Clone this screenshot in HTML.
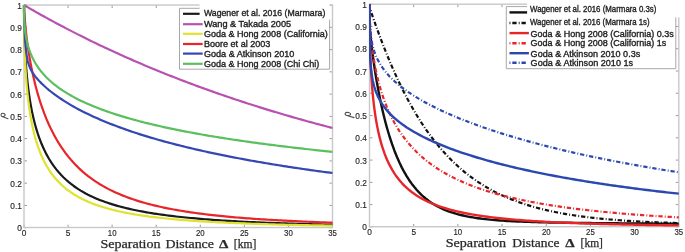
<!DOCTYPE html>
<html><head><meta charset="utf-8"><style>
html,body{margin:0;padding:0;background:#fff;}
body{width:685px;height:252px;overflow:hidden;}
svg{display:block;will-change:transform;}
.tk{font-family:"Liberation Sans",sans-serif;font-size:8.3px;fill:#262626;stroke:#262626;stroke-width:0.15px;}
.lg{font-family:"Liberation Sans",sans-serif;font-size:9px;fill:#222;stroke:#222;stroke-width:0.35px;}
.xl{font-family:"Liberation Serif",serif;font-size:12px;fill:#2a2a2a;stroke:#2a2a2a;stroke-width:0.25px;}
.xd{font-weight:bold;}
.yl{font-family:"Liberation Serif",serif;font-size:10.5px;font-style:italic;fill:#333;}
</style></head><body>
<svg width="685" height="252" viewBox="0 0 685 252">
<defs>
<clipPath id="cl"><rect x="22.0" y="3.05" width="312.5" height="226.64999999999998"/></clipPath>
<clipPath id="cr"><rect x="369.0" y="2.2" width="311.79999999999995" height="226.70000000000002"/></clipPath>
</defs>
<rect width="685" height="252" fill="#fff"/>
<line x1="24.00" y1="227.7" x2="24.00" y2="224.7" stroke="#9a9a9a" stroke-width="1"/>
<line x1="24.00" y1="5.05" x2="24.00" y2="8.05" stroke="#9a9a9a" stroke-width="1"/>
<line x1="68.07" y1="227.7" x2="68.07" y2="224.7" stroke="#9a9a9a" stroke-width="1"/>
<line x1="68.07" y1="5.05" x2="68.07" y2="8.05" stroke="#9a9a9a" stroke-width="1"/>
<line x1="112.14" y1="227.7" x2="112.14" y2="224.7" stroke="#9a9a9a" stroke-width="1"/>
<line x1="112.14" y1="5.05" x2="112.14" y2="8.05" stroke="#9a9a9a" stroke-width="1"/>
<line x1="156.21" y1="227.7" x2="156.21" y2="224.7" stroke="#9a9a9a" stroke-width="1"/>
<line x1="156.21" y1="5.05" x2="156.21" y2="8.05" stroke="#9a9a9a" stroke-width="1"/>
<line x1="200.29" y1="227.7" x2="200.29" y2="224.7" stroke="#9a9a9a" stroke-width="1"/>
<line x1="200.29" y1="5.05" x2="200.29" y2="8.05" stroke="#9a9a9a" stroke-width="1"/>
<line x1="244.36" y1="227.7" x2="244.36" y2="224.7" stroke="#9a9a9a" stroke-width="1"/>
<line x1="244.36" y1="5.05" x2="244.36" y2="8.05" stroke="#9a9a9a" stroke-width="1"/>
<line x1="288.43" y1="227.7" x2="288.43" y2="224.7" stroke="#9a9a9a" stroke-width="1"/>
<line x1="288.43" y1="5.05" x2="288.43" y2="8.05" stroke="#9a9a9a" stroke-width="1"/>
<line x1="332.50" y1="227.7" x2="332.50" y2="224.7" stroke="#9a9a9a" stroke-width="1"/>
<line x1="332.50" y1="5.05" x2="332.50" y2="8.05" stroke="#9a9a9a" stroke-width="1"/>
<line x1="24.0" y1="227.70" x2="27.0" y2="227.70" stroke="#9a9a9a" stroke-width="1"/>
<line x1="332.5" y1="227.70" x2="329.5" y2="227.70" stroke="#9a9a9a" stroke-width="1"/>
<line x1="24.0" y1="205.44" x2="27.0" y2="205.44" stroke="#9a9a9a" stroke-width="1"/>
<line x1="332.5" y1="205.44" x2="329.5" y2="205.44" stroke="#9a9a9a" stroke-width="1"/>
<line x1="24.0" y1="183.17" x2="27.0" y2="183.17" stroke="#9a9a9a" stroke-width="1"/>
<line x1="332.5" y1="183.17" x2="329.5" y2="183.17" stroke="#9a9a9a" stroke-width="1"/>
<line x1="24.0" y1="160.91" x2="27.0" y2="160.91" stroke="#9a9a9a" stroke-width="1"/>
<line x1="332.5" y1="160.91" x2="329.5" y2="160.91" stroke="#9a9a9a" stroke-width="1"/>
<line x1="24.0" y1="138.64" x2="27.0" y2="138.64" stroke="#9a9a9a" stroke-width="1"/>
<line x1="332.5" y1="138.64" x2="329.5" y2="138.64" stroke="#9a9a9a" stroke-width="1"/>
<line x1="24.0" y1="116.38" x2="27.0" y2="116.38" stroke="#9a9a9a" stroke-width="1"/>
<line x1="332.5" y1="116.38" x2="329.5" y2="116.38" stroke="#9a9a9a" stroke-width="1"/>
<line x1="24.0" y1="94.11" x2="27.0" y2="94.11" stroke="#9a9a9a" stroke-width="1"/>
<line x1="332.5" y1="94.11" x2="329.5" y2="94.11" stroke="#9a9a9a" stroke-width="1"/>
<line x1="24.0" y1="71.85" x2="27.0" y2="71.85" stroke="#9a9a9a" stroke-width="1"/>
<line x1="332.5" y1="71.85" x2="329.5" y2="71.85" stroke="#9a9a9a" stroke-width="1"/>
<line x1="24.0" y1="49.58" x2="27.0" y2="49.58" stroke="#9a9a9a" stroke-width="1"/>
<line x1="332.5" y1="49.58" x2="329.5" y2="49.58" stroke="#9a9a9a" stroke-width="1"/>
<line x1="24.0" y1="27.31" x2="27.0" y2="27.31" stroke="#9a9a9a" stroke-width="1"/>
<line x1="332.5" y1="27.31" x2="329.5" y2="27.31" stroke="#9a9a9a" stroke-width="1"/>
<line x1="24.0" y1="5.05" x2="27.0" y2="5.05" stroke="#9a9a9a" stroke-width="1"/>
<line x1="332.5" y1="5.05" x2="329.5" y2="5.05" stroke="#9a9a9a" stroke-width="1"/>
<rect x="24.0" y="5.05" width="308.5" height="222.45" fill="none" stroke="#c8c8c8" stroke-width="1.4"/>
<text x="21.9" y="231.20" text-anchor="end" class="tk">0</text>
<text x="21.9" y="208.94" text-anchor="end" class="tk">0.1</text>
<text x="21.9" y="186.67" text-anchor="end" class="tk">0.2</text>
<text x="21.9" y="164.41" text-anchor="end" class="tk">0.3</text>
<text x="21.9" y="142.14" text-anchor="end" class="tk">0.4</text>
<text x="21.9" y="119.88" text-anchor="end" class="tk">0.5</text>
<text x="21.9" y="97.61" text-anchor="end" class="tk">0.6</text>
<text x="21.9" y="75.35" text-anchor="end" class="tk">0.7</text>
<text x="21.9" y="53.08" text-anchor="end" class="tk">0.8</text>
<text x="21.9" y="30.81" text-anchor="end" class="tk">0.9</text>
<text x="21.9" y="8.55" text-anchor="end" class="tk">1</text>
<text x="24.00" y="236.00" text-anchor="middle" class="tk">0</text>
<text x="68.07" y="236.00" text-anchor="middle" class="tk">5</text>
<text x="112.14" y="236.00" text-anchor="middle" class="tk" textLength="8.7" lengthAdjust="spacingAndGlyphs">10</text>
<text x="156.21" y="236.00" text-anchor="middle" class="tk" textLength="8.7" lengthAdjust="spacingAndGlyphs">15</text>
<text x="200.29" y="236.00" text-anchor="middle" class="tk" textLength="8.7" lengthAdjust="spacingAndGlyphs">20</text>
<text x="244.36" y="236.00" text-anchor="middle" class="tk" textLength="8.7" lengthAdjust="spacingAndGlyphs">25</text>
<text x="288.43" y="236.00" text-anchor="middle" class="tk" textLength="8.7" lengthAdjust="spacingAndGlyphs">30</text>
<text x="332.50" y="236.00" text-anchor="middle" class="tk" textLength="8.7" lengthAdjust="spacingAndGlyphs">35</text>
<line x1="369.50" y1="226.9" x2="369.50" y2="223.9" stroke="#9a9a9a" stroke-width="1"/>
<line x1="369.50" y1="4.2" x2="369.50" y2="7.2" stroke="#9a9a9a" stroke-width="1"/>
<line x1="413.69" y1="226.9" x2="413.69" y2="223.9" stroke="#9a9a9a" stroke-width="1"/>
<line x1="413.69" y1="4.2" x2="413.69" y2="7.2" stroke="#9a9a9a" stroke-width="1"/>
<line x1="457.87" y1="226.9" x2="457.87" y2="223.9" stroke="#9a9a9a" stroke-width="1"/>
<line x1="457.87" y1="4.2" x2="457.87" y2="7.2" stroke="#9a9a9a" stroke-width="1"/>
<line x1="502.06" y1="226.9" x2="502.06" y2="223.9" stroke="#9a9a9a" stroke-width="1"/>
<line x1="502.06" y1="4.2" x2="502.06" y2="7.2" stroke="#9a9a9a" stroke-width="1"/>
<line x1="546.24" y1="226.9" x2="546.24" y2="223.9" stroke="#9a9a9a" stroke-width="1"/>
<line x1="546.24" y1="4.2" x2="546.24" y2="7.2" stroke="#9a9a9a" stroke-width="1"/>
<line x1="590.43" y1="226.9" x2="590.43" y2="223.9" stroke="#9a9a9a" stroke-width="1"/>
<line x1="590.43" y1="4.2" x2="590.43" y2="7.2" stroke="#9a9a9a" stroke-width="1"/>
<line x1="634.61" y1="226.9" x2="634.61" y2="223.9" stroke="#9a9a9a" stroke-width="1"/>
<line x1="634.61" y1="4.2" x2="634.61" y2="7.2" stroke="#9a9a9a" stroke-width="1"/>
<line x1="678.80" y1="226.9" x2="678.80" y2="223.9" stroke="#9a9a9a" stroke-width="1"/>
<line x1="678.80" y1="4.2" x2="678.80" y2="7.2" stroke="#9a9a9a" stroke-width="1"/>
<line x1="369.5" y1="226.90" x2="372.5" y2="226.90" stroke="#9a9a9a" stroke-width="1"/>
<line x1="678.8" y1="226.90" x2="675.8" y2="226.90" stroke="#9a9a9a" stroke-width="1"/>
<line x1="369.5" y1="204.63" x2="372.5" y2="204.63" stroke="#9a9a9a" stroke-width="1"/>
<line x1="678.8" y1="204.63" x2="675.8" y2="204.63" stroke="#9a9a9a" stroke-width="1"/>
<line x1="369.5" y1="182.36" x2="372.5" y2="182.36" stroke="#9a9a9a" stroke-width="1"/>
<line x1="678.8" y1="182.36" x2="675.8" y2="182.36" stroke="#9a9a9a" stroke-width="1"/>
<line x1="369.5" y1="160.09" x2="372.5" y2="160.09" stroke="#9a9a9a" stroke-width="1"/>
<line x1="678.8" y1="160.09" x2="675.8" y2="160.09" stroke="#9a9a9a" stroke-width="1"/>
<line x1="369.5" y1="137.82" x2="372.5" y2="137.82" stroke="#9a9a9a" stroke-width="1"/>
<line x1="678.8" y1="137.82" x2="675.8" y2="137.82" stroke="#9a9a9a" stroke-width="1"/>
<line x1="369.5" y1="115.55" x2="372.5" y2="115.55" stroke="#9a9a9a" stroke-width="1"/>
<line x1="678.8" y1="115.55" x2="675.8" y2="115.55" stroke="#9a9a9a" stroke-width="1"/>
<line x1="369.5" y1="93.28" x2="372.5" y2="93.28" stroke="#9a9a9a" stroke-width="1"/>
<line x1="678.8" y1="93.28" x2="675.8" y2="93.28" stroke="#9a9a9a" stroke-width="1"/>
<line x1="369.5" y1="71.01" x2="372.5" y2="71.01" stroke="#9a9a9a" stroke-width="1"/>
<line x1="678.8" y1="71.01" x2="675.8" y2="71.01" stroke="#9a9a9a" stroke-width="1"/>
<line x1="369.5" y1="48.74" x2="372.5" y2="48.74" stroke="#9a9a9a" stroke-width="1"/>
<line x1="678.8" y1="48.74" x2="675.8" y2="48.74" stroke="#9a9a9a" stroke-width="1"/>
<line x1="369.5" y1="26.47" x2="372.5" y2="26.47" stroke="#9a9a9a" stroke-width="1"/>
<line x1="678.8" y1="26.47" x2="675.8" y2="26.47" stroke="#9a9a9a" stroke-width="1"/>
<line x1="369.5" y1="4.20" x2="372.5" y2="4.20" stroke="#9a9a9a" stroke-width="1"/>
<line x1="678.8" y1="4.20" x2="675.8" y2="4.20" stroke="#9a9a9a" stroke-width="1"/>
<rect x="369.5" y="4.2" width="309.29999999999995" height="222.5" fill="none" stroke="#c8c8c8" stroke-width="1.4"/>
<text x="366.9" y="230.40" text-anchor="end" class="tk">0</text>
<text x="366.9" y="208.13" text-anchor="end" class="tk">0.1</text>
<text x="366.9" y="185.86" text-anchor="end" class="tk">0.2</text>
<text x="366.9" y="163.59" text-anchor="end" class="tk">0.3</text>
<text x="366.9" y="141.32" text-anchor="end" class="tk">0.4</text>
<text x="366.9" y="119.05" text-anchor="end" class="tk">0.5</text>
<text x="366.9" y="96.78" text-anchor="end" class="tk">0.6</text>
<text x="366.9" y="74.51" text-anchor="end" class="tk">0.7</text>
<text x="366.9" y="52.24" text-anchor="end" class="tk">0.8</text>
<text x="366.9" y="29.97" text-anchor="end" class="tk">0.9</text>
<text x="366.9" y="7.70" text-anchor="end" class="tk">1</text>
<text x="369.50" y="235.20" text-anchor="middle" class="tk">0</text>
<text x="413.69" y="235.20" text-anchor="middle" class="tk">5</text>
<text x="457.87" y="235.20" text-anchor="middle" class="tk" textLength="8.7" lengthAdjust="spacingAndGlyphs">10</text>
<text x="502.06" y="235.20" text-anchor="middle" class="tk" textLength="8.7" lengthAdjust="spacingAndGlyphs">15</text>
<text x="546.24" y="235.20" text-anchor="middle" class="tk" textLength="8.7" lengthAdjust="spacingAndGlyphs">20</text>
<text x="590.43" y="235.20" text-anchor="middle" class="tk" textLength="8.7" lengthAdjust="spacingAndGlyphs">25</text>
<text x="634.61" y="235.20" text-anchor="middle" class="tk" textLength="8.7" lengthAdjust="spacingAndGlyphs">30</text>
<text x="678.80" y="235.20" text-anchor="middle" class="tk" textLength="8.7" lengthAdjust="spacingAndGlyphs">35</text>
<g clip-path="url(#cl)">
<path d="M24.00,5.05 L24.01,9.78 L24.04,14.63 L24.10,19.47 L24.18,24.25 L24.28,28.96 L24.40,33.60 L24.54,38.16 L24.71,42.63 L24.89,47.01 L25.10,51.31 L25.33,55.52 L25.59,59.65 L25.86,63.68 L26.16,67.63 L26.48,71.50 L26.82,75.28 L27.18,78.98 L27.57,82.59 L27.98,86.13 L28.41,89.58 L28.86,92.96 L29.33,96.25 L29.83,99.48 L30.35,102.63 L30.89,105.70 L31.45,108.71 L32.03,111.64 L32.64,114.51 L33.27,117.31 L33.92,120.04 L34.59,122.71 L35.28,125.31 L36.00,127.86 L36.74,130.34 L37.50,132.76 L38.28,135.13 L39.08,137.44 L39.91,139.69 L40.76,141.89 L41.63,144.04 L44.07,149.54 L46.52,154.40 L48.96,158.73 L51.41,162.62 L53.85,166.15 L56.29,169.35 L58.74,172.28 L61.18,174.98 L63.63,177.46 L66.07,179.76 L68.52,181.90 L70.96,183.89 L73.40,185.74 L75.85,187.48 L78.29,189.11 L80.74,190.63 L83.18,192.07 L85.63,193.43 L88.07,194.71 L90.51,195.92 L92.96,197.07 L95.40,198.15 L97.85,199.18 L100.29,200.16 L102.74,201.09 L105.18,201.98 L107.62,202.83 L110.07,203.63 L112.51,204.40 L114.96,205.14 L117.40,205.84 L119.85,206.51 L122.29,207.16 L124.73,207.77 L127.18,208.36 L129.62,208.93 L132.07,209.48 L134.51,210.00 L136.96,210.50 L139.40,210.99 L141.84,211.45 L144.29,211.90 L146.73,212.33 L149.18,212.75 L151.62,213.15 L154.07,213.54 L156.51,213.91 L158.95,214.27 L161.40,214.62 L163.84,214.95 L166.29,215.28 L168.73,215.59 L171.18,215.89 L173.62,216.19 L176.06,216.47 L178.51,216.75 L180.95,217.01 L183.40,217.27 L185.84,217.52 L188.29,217.76 L190.73,218.00 L193.18,218.22 L195.62,218.44 L198.06,218.66 L200.51,218.86 L202.95,219.07 L205.40,219.26 L207.84,219.45 L210.29,219.64 L212.73,219.82 L215.17,219.99 L217.62,220.16 L220.06,220.32 L222.51,220.48 L224.95,220.64 L227.40,220.79 L229.84,220.94 L232.28,221.08 L234.73,221.22 L237.17,221.36 L239.62,221.49 L242.06,221.62 L244.51,221.74 L246.95,221.86 L249.39,221.98 L251.84,222.10 L254.28,222.21 L256.73,222.32 L259.17,222.43 L261.62,222.54 L264.06,222.64 L266.50,222.74 L268.95,222.84 L271.39,222.93 L273.84,223.02 L276.28,223.11 L278.73,223.20 L281.17,223.29 L283.61,223.37 L286.06,223.45 L288.50,223.53 L290.95,223.61 L293.39,223.69 L295.84,223.76 L298.28,223.84 L300.72,223.91 L303.17,223.98 L305.61,224.05 L308.06,224.11 L310.50,224.18 L312.95,224.24 L315.39,224.30 L317.83,224.37 L320.28,224.43 L322.72,224.48 L325.17,224.54 L327.61,224.60 L330.06,224.65 L332.50,224.70" fill="none" stroke="#1a1a1a" stroke-width="2.2" stroke-linejoin="round"/>
<path d="M24.00,5.05 L24.01,5.06 L24.04,5.08 L24.10,5.11 L24.18,5.16 L24.28,5.21 L24.40,5.29 L24.54,5.37 L24.71,5.47 L24.89,5.58 L25.10,5.70 L25.33,5.84 L25.59,5.99 L25.86,6.15 L26.16,6.33 L26.48,6.51 L26.82,6.71 L27.18,6.93 L27.57,7.15 L27.98,7.39 L28.41,7.64 L28.86,7.90 L29.33,8.18 L29.83,8.46 L30.35,8.76 L30.89,9.08 L31.45,9.40 L32.03,9.74 L32.64,10.08 L33.27,10.44 L33.92,10.81 L34.59,11.20 L35.28,11.59 L36.00,12.00 L36.74,12.42 L37.50,12.85 L38.28,13.29 L39.08,13.74 L39.91,14.21 L40.76,14.68 L41.63,15.17 L44.07,16.53 L46.52,17.88 L48.96,19.22 L51.41,20.55 L53.85,21.87 L56.29,23.18 L58.74,24.49 L61.18,25.79 L63.63,27.07 L66.07,28.35 L68.52,29.62 L70.96,30.88 L73.40,32.14 L75.85,33.38 L78.29,34.62 L80.74,35.85 L83.18,37.07 L85.63,38.28 L88.07,39.49 L90.51,40.68 L92.96,41.87 L95.40,43.05 L97.85,44.23 L100.29,45.39 L102.74,46.55 L105.18,47.70 L107.62,48.85 L110.07,49.98 L112.51,51.11 L114.96,52.23 L117.40,53.35 L119.85,54.45 L122.29,55.55 L124.73,56.65 L127.18,57.73 L129.62,58.81 L132.07,59.88 L134.51,60.95 L136.96,62.00 L139.40,63.05 L141.84,64.10 L144.29,65.14 L146.73,66.17 L149.18,67.19 L151.62,68.21 L154.07,69.22 L156.51,70.22 L158.95,71.22 L161.40,72.21 L163.84,73.20 L166.29,74.18 L168.73,75.15 L171.18,76.12 L173.62,77.08 L176.06,78.03 L178.51,78.98 L180.95,79.92 L183.40,80.86 L185.84,81.79 L188.29,82.71 L190.73,83.63 L193.18,84.54 L195.62,85.45 L198.06,86.35 L200.51,87.24 L202.95,88.13 L205.40,89.02 L207.84,89.90 L210.29,90.77 L212.73,91.63 L215.17,92.50 L217.62,93.35 L220.06,94.20 L222.51,95.05 L224.95,95.88 L227.40,96.72 L229.84,97.55 L232.28,98.37 L234.73,99.19 L237.17,100.00 L239.62,100.81 L242.06,101.61 L244.51,102.41 L246.95,103.20 L249.39,103.99 L251.84,104.77 L254.28,105.55 L256.73,106.32 L259.17,107.09 L261.62,107.85 L264.06,108.61 L266.50,109.36 L268.95,110.11 L271.39,110.85 L273.84,111.59 L276.28,112.32 L278.73,113.05 L281.17,113.78 L283.61,114.50 L286.06,115.21 L288.50,115.92 L290.95,116.63 L293.39,117.33 L295.84,118.03 L298.28,118.72 L300.72,119.41 L303.17,120.09 L305.61,120.77 L308.06,121.45 L310.50,122.12 L312.95,122.79 L315.39,123.45 L317.83,124.11 L320.28,124.76 L322.72,125.41 L325.17,126.06 L327.61,126.70 L330.06,127.34 L332.50,127.97" fill="none" stroke="#b852b2" stroke-width="2.2" stroke-linejoin="round"/>
<path d="M24.00,5.05 L24.01,11.48 L24.04,17.64 L24.10,23.61 L24.18,29.38 L24.28,34.98 L24.40,40.41 L24.54,45.68 L24.71,50.80 L24.89,55.76 L25.10,60.58 L25.33,65.26 L25.59,69.81 L25.86,74.23 L26.16,78.52 L26.48,82.69 L26.82,86.73 L27.18,90.67 L27.57,94.49 L27.98,98.20 L28.41,101.81 L28.86,105.32 L29.33,108.72 L29.83,112.03 L30.35,115.25 L30.89,118.38 L31.45,121.42 L32.03,124.37 L32.64,127.24 L33.27,130.03 L33.92,132.74 L34.59,135.37 L35.28,137.94 L36.00,140.42 L36.74,142.84 L37.50,145.20 L38.28,147.48 L39.08,149.70 L39.91,151.87 L40.76,153.97 L41.63,156.01 L44.07,161.21 L46.52,165.75 L48.96,169.77 L51.41,173.35 L53.85,176.56 L56.29,179.47 L58.74,182.11 L61.18,184.52 L63.63,186.73 L66.07,188.76 L68.52,190.64 L70.96,192.39 L73.40,194.00 L75.85,195.51 L78.29,196.91 L80.74,198.23 L83.18,199.46 L85.63,200.62 L88.07,201.70 L90.51,202.73 L92.96,203.70 L95.40,204.61 L97.85,205.47 L100.29,206.29 L102.74,207.06 L105.18,207.80 L107.62,208.50 L110.07,209.16 L112.51,209.80 L114.96,210.40 L117.40,210.97 L119.85,211.52 L122.29,212.05 L124.73,212.55 L127.18,213.03 L129.62,213.48 L132.07,213.92 L134.51,214.34 L136.96,214.75 L139.40,215.13 L141.84,215.51 L144.29,215.86 L146.73,216.21 L149.18,216.54 L151.62,216.85 L154.07,217.16 L156.51,217.45 L158.95,217.73 L161.40,218.01 L163.84,218.27 L166.29,218.52 L168.73,218.77 L171.18,219.00 L173.62,219.23 L176.06,219.45 L178.51,219.67 L180.95,219.87 L183.40,220.07 L185.84,220.26 L188.29,220.45 L190.73,220.63 L193.18,220.80 L195.62,220.97 L198.06,221.14 L200.51,221.29 L202.95,221.45 L205.40,221.60 L207.84,221.74 L210.29,221.88 L212.73,222.02 L215.17,222.15 L217.62,222.28 L220.06,222.40 L222.51,222.52 L224.95,222.64 L227.40,222.75 L229.84,222.86 L232.28,222.97 L234.73,223.07 L237.17,223.18 L239.62,223.27 L242.06,223.37 L244.51,223.46 L246.95,223.55 L249.39,223.64 L251.84,223.73 L254.28,223.81 L256.73,223.89 L259.17,223.97 L261.62,224.05 L264.06,224.13 L266.50,224.20 L268.95,224.27 L271.39,224.34 L273.84,224.41 L276.28,224.48 L278.73,224.54 L281.17,224.60 L283.61,224.67 L286.06,224.73 L288.50,224.78 L290.95,224.84 L293.39,224.90 L295.84,224.95 L298.28,225.01 L300.72,225.06 L303.17,225.11 L305.61,225.16 L308.06,225.21 L310.50,225.25 L312.95,225.30 L315.39,225.34 L317.83,225.39 L320.28,225.43 L322.72,225.47 L325.17,225.51 L327.61,225.55 L330.06,225.59 L332.50,225.63" fill="none" stroke="#dfe22e" stroke-width="2.2" stroke-linejoin="round"/>
<path d="M24.00,5.05 L24.01,5.74 L24.04,6.92 L24.10,8.38 L24.18,10.07 L24.28,11.93 L24.40,13.94 L24.54,16.08 L24.71,18.33 L24.89,20.68 L25.10,23.12 L25.33,25.63 L25.59,28.21 L25.86,30.85 L26.16,33.54 L26.48,36.27 L26.82,39.03 L27.18,41.83 L27.57,44.65 L27.98,47.50 L28.41,50.36 L28.86,53.23 L29.33,56.12 L29.83,59.00 L30.35,61.89 L30.89,64.77 L31.45,67.65 L32.03,70.53 L32.64,73.39 L33.27,76.23 L33.92,79.07 L34.59,81.88 L35.28,84.68 L36.00,87.45 L36.74,90.20 L37.50,92.93 L38.28,95.63 L39.08,98.30 L39.91,100.95 L40.76,103.56 L41.63,106.15 L44.07,112.92 L46.52,119.08 L48.96,124.70 L51.41,129.86 L53.85,134.62 L56.29,139.02 L58.74,143.11 L61.18,146.91 L63.63,150.46 L66.07,153.78 L68.52,156.89 L70.96,159.81 L73.40,162.55 L75.85,165.14 L78.29,167.58 L80.74,169.88 L83.18,172.06 L85.63,174.12 L88.07,176.07 L90.51,177.93 L92.96,179.69 L95.40,181.36 L97.85,182.95 L100.29,184.47 L102.74,185.91 L105.18,187.29 L107.62,188.60 L110.07,189.86 L112.51,191.06 L114.96,192.21 L117.40,193.31 L119.85,194.36 L122.29,195.37 L124.73,196.33 L127.18,197.26 L129.62,198.15 L132.07,199.00 L134.51,199.82 L136.96,200.61 L139.40,201.37 L141.84,202.10 L144.29,202.80 L146.73,203.47 L149.18,204.12 L151.62,204.75 L154.07,205.36 L156.51,205.94 L158.95,206.50 L161.40,207.04 L163.84,207.57 L166.29,208.07 L168.73,208.56 L171.18,209.03 L173.62,209.49 L176.06,209.93 L178.51,210.36 L180.95,210.77 L183.40,211.17 L185.84,211.56 L188.29,211.94 L190.73,212.30 L193.18,212.65 L195.62,212.99 L198.06,213.32 L200.51,213.65 L202.95,213.96 L205.40,214.26 L207.84,214.55 L210.29,214.84 L212.73,215.12 L215.17,215.38 L217.62,215.65 L220.06,215.90 L222.51,216.15 L224.95,216.39 L227.40,216.62 L229.84,216.85 L232.28,217.07 L234.73,217.28 L237.17,217.49 L239.62,217.70 L242.06,217.89 L244.51,218.09 L246.95,218.28 L249.39,218.46 L251.84,218.64 L254.28,218.81 L256.73,218.98 L259.17,219.15 L261.62,219.31 L264.06,219.47 L266.50,219.62 L268.95,219.77 L271.39,219.92 L273.84,220.06 L276.28,220.20 L278.73,220.33 L281.17,220.47 L283.61,220.60 L286.06,220.72 L288.50,220.85 L290.95,220.97 L293.39,221.09 L295.84,221.20 L298.28,221.32 L300.72,221.43 L303.17,221.53 L305.61,221.64 L308.06,221.74 L310.50,221.84 L312.95,221.94 L315.39,222.04 L317.83,222.14 L320.28,222.23 L322.72,222.32 L325.17,222.41 L327.61,222.49 L330.06,222.58 L332.50,222.66" fill="none" stroke="#e8262a" stroke-width="2.2" stroke-linejoin="round"/>
<path d="M24.00,5.05 L24.01,6.59 L24.04,9.31 L24.10,12.68 L24.18,16.44 L24.28,20.42 L24.40,24.47 L24.54,28.50 L24.71,32.43 L24.89,36.19 L25.10,39.76 L25.33,43.10 L25.59,46.21 L25.86,49.08 L26.16,51.71 L26.48,54.12 L26.82,56.33 L27.18,58.34 L27.57,60.18 L27.98,61.87 L28.41,63.42 L28.86,64.85 L29.33,66.18 L29.83,67.42 L30.35,68.59 L30.89,69.70 L31.45,70.76 L32.03,71.78 L32.64,72.76 L33.27,73.72 L33.92,74.65 L34.59,75.57 L35.28,76.47 L36.00,77.37 L36.74,78.25 L37.50,79.13 L38.28,80.01 L39.08,80.88 L39.91,81.75 L40.76,82.62 L41.63,83.48 L44.07,85.80 L46.52,87.98 L48.96,90.04 L51.41,92.00 L53.85,93.87 L56.29,95.66 L58.74,97.38 L61.18,99.03 L63.63,100.62 L66.07,102.16 L68.52,103.65 L70.96,105.09 L73.40,106.49 L75.85,107.85 L78.29,109.17 L80.74,110.45 L83.18,111.70 L85.63,112.92 L88.07,114.11 L90.51,115.27 L92.96,116.40 L95.40,117.51 L97.85,118.59 L100.29,119.65 L102.74,120.69 L105.18,121.71 L107.62,122.70 L110.07,123.68 L112.51,124.63 L114.96,125.57 L117.40,126.49 L119.85,127.39 L122.29,128.28 L124.73,129.15 L127.18,130.01 L129.62,130.85 L132.07,131.68 L134.51,132.49 L136.96,133.29 L139.40,134.08 L141.84,134.85 L144.29,135.62 L146.73,136.37 L149.18,137.11 L151.62,137.83 L154.07,138.55 L156.51,139.26 L158.95,139.95 L161.40,140.64 L163.84,141.32 L166.29,141.98 L168.73,142.64 L171.18,143.29 L173.62,143.93 L176.06,144.56 L178.51,145.18 L180.95,145.80 L183.40,146.41 L185.84,147.01 L188.29,147.60 L190.73,148.18 L193.18,148.76 L195.62,149.33 L198.06,149.89 L200.51,150.44 L202.95,150.99 L205.40,151.53 L207.84,152.07 L210.29,152.60 L212.73,153.12 L215.17,153.64 L217.62,154.15 L220.06,154.65 L222.51,155.15 L224.95,155.65 L227.40,156.14 L229.84,156.62 L232.28,157.10 L234.73,157.57 L237.17,158.04 L239.62,158.50 L242.06,158.95 L244.51,159.41 L246.95,159.85 L249.39,160.30 L251.84,160.74 L254.28,161.17 L256.73,161.60 L259.17,162.02 L261.62,162.44 L264.06,162.86 L266.50,163.27 L268.95,163.68 L271.39,164.08 L273.84,164.48 L276.28,164.88 L278.73,165.27 L281.17,165.66 L283.61,166.04 L286.06,166.43 L288.50,166.80 L290.95,167.18 L293.39,167.55 L295.84,167.91 L298.28,168.28 L300.72,168.64 L303.17,168.99 L305.61,169.35 L308.06,169.70 L310.50,170.04 L312.95,170.39 L315.39,170.73 L317.83,171.06 L320.28,171.40 L322.72,171.73 L325.17,172.06 L327.61,172.38 L330.06,172.71 L332.50,173.03" fill="none" stroke="#3447b2" stroke-width="2.2" stroke-linejoin="round"/>
<path d="M24.00,5.05 L24.01,9.66 L24.04,12.85 L24.10,15.64 L24.18,18.18 L24.28,20.56 L24.40,22.80 L24.54,24.93 L24.71,26.98 L24.89,28.94 L25.10,30.84 L25.33,32.67 L25.59,34.45 L25.86,36.19 L26.16,37.87 L26.48,39.52 L26.82,41.12 L27.18,42.69 L27.57,44.23 L27.98,45.73 L28.41,47.20 L28.86,48.64 L29.33,50.06 L29.83,51.45 L30.35,52.82 L30.89,54.16 L31.45,55.48 L32.03,56.78 L32.64,58.06 L33.27,59.32 L33.92,60.56 L34.59,61.78 L35.28,62.98 L36.00,64.17 L36.74,65.33 L37.50,66.49 L38.28,67.62 L39.08,68.75 L39.91,69.85 L40.76,70.95 L41.63,72.02 L44.07,74.85 L46.52,77.43 L48.96,79.80 L51.41,82.00 L53.85,84.05 L56.29,85.97 L58.74,87.79 L61.18,89.50 L63.63,91.12 L66.07,92.67 L68.52,94.15 L70.96,95.56 L73.40,96.91 L75.85,98.21 L78.29,99.46 L80.74,100.66 L83.18,101.82 L85.63,102.95 L88.07,104.03 L90.51,105.08 L92.96,106.10 L95.40,107.09 L97.85,108.05 L100.29,108.98 L102.74,109.89 L105.18,110.78 L107.62,111.64 L110.07,112.48 L112.51,113.30 L114.96,114.10 L117.40,114.88 L119.85,115.64 L122.29,116.39 L124.73,117.12 L127.18,117.83 L129.62,118.53 L132.07,119.22 L134.51,119.89 L136.96,120.55 L139.40,121.20 L141.84,121.83 L144.29,122.46 L146.73,123.07 L149.18,123.67 L151.62,124.26 L154.07,124.84 L156.51,125.41 L158.95,125.97 L161.40,126.52 L163.84,127.06 L166.29,127.59 L168.73,128.12 L171.18,128.63 L173.62,129.14 L176.06,129.64 L178.51,130.14 L180.95,130.62 L183.40,131.10 L185.84,131.58 L188.29,132.04 L190.73,132.50 L193.18,132.95 L195.62,133.40 L198.06,133.84 L200.51,134.28 L202.95,134.71 L205.40,135.13 L207.84,135.55 L210.29,135.96 L212.73,136.37 L215.17,136.78 L217.62,137.17 L220.06,137.57 L222.51,137.96 L224.95,138.34 L227.40,138.72 L229.84,139.10 L232.28,139.47 L234.73,139.83 L237.17,140.20 L239.62,140.55 L242.06,140.91 L244.51,141.26 L246.95,141.61 L249.39,141.95 L251.84,142.29 L254.28,142.63 L256.73,142.96 L259.17,143.29 L261.62,143.61 L264.06,143.94 L266.50,144.26 L268.95,144.57 L271.39,144.88 L273.84,145.19 L276.28,145.50 L278.73,145.81 L281.17,146.11 L283.61,146.40 L286.06,146.70 L288.50,146.99 L290.95,147.28 L293.39,147.57 L295.84,147.85 L298.28,148.14 L300.72,148.42 L303.17,148.69 L305.61,148.97 L308.06,149.24 L310.50,149.51 L312.95,149.78 L315.39,150.04 L317.83,150.31 L320.28,150.57 L322.72,150.82 L325.17,151.08 L327.61,151.34 L330.06,151.59 L332.50,151.84" fill="none" stroke="#5abf5e" stroke-width="2.2" stroke-linejoin="round"/>
</g>
<g clip-path="url(#cr)">
<path d="M369.50,4.20 L369.51,15.82 L369.54,19.10 L369.60,21.59 L369.68,23.79 L369.78,25.88 L369.90,27.95 L370.04,30.04 L370.21,32.18 L370.39,34.38 L370.60,36.66 L370.84,39.01 L371.09,41.44 L371.37,43.96 L371.67,46.55 L371.99,49.23 L372.33,51.98 L372.69,54.80 L373.08,57.69 L373.49,60.64 L373.92,63.66 L374.37,66.72 L374.85,69.84 L375.34,73.00 L375.86,76.20 L376.40,79.44 L376.97,82.70 L377.55,85.98 L378.16,89.28 L378.79,92.60 L379.44,95.92 L380.12,99.24 L380.81,102.57 L381.53,105.88 L382.27,109.18 L383.03,112.47 L383.82,115.74 L384.62,118.98 L385.45,122.19 L386.30,125.37 L387.17,128.52 L389.62,136.75 L392.08,144.19 L394.53,150.93 L396.98,157.03 L399.43,162.58 L401.88,167.62 L404.33,172.21 L406.78,176.38 L409.23,180.19 L411.68,183.67 L414.13,186.84 L416.58,189.75 L419.03,192.40 L421.48,194.82 L423.93,197.04 L426.38,199.08 L428.84,200.94 L431.29,202.65 L433.74,204.21 L436.19,205.65 L438.64,206.97 L441.09,208.18 L443.54,209.30 L445.99,210.32 L448.44,211.27 L450.89,212.13 L453.34,212.93 L455.79,213.67 L458.24,214.34 L460.69,214.97 L463.14,215.54 L465.59,216.08 L468.05,216.57 L470.50,217.02 L472.95,217.44 L475.40,217.83 L477.85,218.19 L480.30,218.52 L482.75,218.83 L485.20,219.12 L487.65,219.38 L490.10,219.63 L492.55,219.86 L495.00,220.07 L497.45,220.27 L499.90,220.45 L502.35,220.62 L504.80,220.78 L507.26,220.93 L509.71,221.07 L512.16,221.20 L514.61,221.32 L517.06,221.44 L519.51,221.54 L521.96,221.65 L524.41,221.74 L526.86,221.83 L529.31,221.91 L531.76,221.99 L534.21,222.07 L536.66,222.14 L539.11,222.20 L541.56,222.27 L544.02,222.33 L546.47,222.38 L548.92,222.44 L551.37,222.49 L553.82,222.54 L556.27,222.58 L558.72,222.63 L561.17,222.67 L563.62,222.71 L566.07,222.75 L568.52,222.79 L570.97,222.82 L573.42,222.86 L575.87,222.89 L578.32,222.92 L580.77,222.95 L583.23,222.98 L585.68,223.01 L588.13,223.04 L590.58,223.07 L593.03,223.09 L595.48,223.12 L597.93,223.14 L600.38,223.17 L602.83,223.19 L605.28,223.21 L607.73,223.24 L610.18,223.26 L612.63,223.28 L615.08,223.30 L617.53,223.32 L619.98,223.34 L622.44,223.36 L624.89,223.38 L627.34,223.40 L629.79,223.41 L632.24,223.43 L634.69,223.45 L637.14,223.47 L639.59,223.48 L642.04,223.50 L644.49,223.52 L646.94,223.53 L649.39,223.55 L651.84,223.56 L654.29,223.58 L656.74,223.59 L659.19,223.61 L661.65,223.62 L664.10,223.64 L666.55,223.65 L669.00,223.67 L671.45,223.68 L673.90,223.69 L676.35,223.71 L678.80,223.72" fill="none" stroke="#111111" stroke-width="2.4" stroke-linejoin="round"/>
<path d="M369.50,4.20 L369.51,5.71 L369.54,6.20 L369.60,6.62 L369.68,7.04 L369.78,7.48 L369.90,7.95 L370.04,8.46 L370.21,9.03 L370.39,9.64 L370.60,10.30 L370.84,11.02 L371.09,11.80 L371.37,12.63 L371.67,13.52 L371.99,14.47 L372.33,15.48 L372.69,16.54 L373.08,17.66 L373.49,18.84 L373.92,20.07 L374.37,21.36 L374.85,22.71 L375.34,24.11 L375.86,25.56 L376.40,27.07 L376.97,28.63 L377.55,30.24 L378.16,31.90 L378.79,33.61 L379.44,35.37 L380.12,37.17 L380.81,39.01 L381.53,40.90 L382.27,42.83 L383.03,44.81 L383.82,46.82 L384.62,48.86 L385.45,50.95 L386.30,53.06 L387.17,55.21 L389.62,61.12 L392.08,66.85 L394.53,72.40 L396.98,77.78 L399.43,82.99 L401.88,88.03 L404.33,92.90 L406.78,97.61 L409.23,102.17 L411.68,106.57 L414.13,110.83 L416.58,114.94 L419.03,118.91 L421.48,122.75 L423.93,126.45 L426.38,130.03 L428.84,133.48 L431.29,136.82 L433.74,140.03 L436.19,143.14 L438.64,146.13 L441.09,149.02 L443.54,151.80 L445.99,154.49 L448.44,157.08 L450.89,159.58 L453.34,161.99 L455.79,164.32 L458.24,166.56 L460.69,168.72 L463.14,170.80 L465.59,172.80 L468.05,174.74 L470.50,176.60 L472.95,178.40 L475.40,180.13 L477.85,181.80 L480.30,183.40 L482.75,184.95 L485.20,186.44 L487.65,187.88 L490.10,189.26 L492.55,190.60 L495.00,191.88 L497.45,193.12 L499.90,194.31 L502.35,195.46 L504.80,196.56 L507.26,197.62 L509.71,198.65 L512.16,199.63 L514.61,200.58 L517.06,201.50 L519.51,202.38 L521.96,203.23 L524.41,204.04 L526.86,204.83 L529.31,205.59 L531.76,206.31 L534.21,207.01 L536.66,207.69 L539.11,208.34 L541.56,208.96 L544.02,209.57 L546.47,210.15 L548.92,210.70 L551.37,211.24 L553.82,211.76 L556.27,212.25 L558.72,212.73 L561.17,213.19 L563.62,213.63 L566.07,214.06 L568.52,214.47 L570.97,214.87 L573.42,215.25 L575.87,215.61 L578.32,215.96 L580.77,216.30 L583.23,216.63 L585.68,216.94 L588.13,217.24 L590.58,217.53 L593.03,217.81 L595.48,218.08 L597.93,218.34 L600.38,218.59 L602.83,218.83 L605.28,219.06 L607.73,219.28 L610.18,219.49 L612.63,219.70 L615.08,219.90 L617.53,220.09 L619.98,220.27 L622.44,220.45 L624.89,220.62 L627.34,220.78 L629.79,220.94 L632.24,221.09 L634.69,221.23 L637.14,221.37 L639.59,221.51 L642.04,221.64 L644.49,221.76 L646.94,221.88 L649.39,222.00 L651.84,222.11 L654.29,222.21 L656.74,222.32 L659.19,222.42 L661.65,222.51 L664.10,222.60 L666.55,222.69 L669.00,222.78 L671.45,222.86 L673.90,222.94 L676.35,223.01 L678.80,223.09" fill="none" stroke="#111111" stroke-width="2.2" stroke-linejoin="round" stroke-dasharray="4.3,2.1,0.9,1.9"/>
<path d="M369.50,4.20 L369.51,10.91 L369.54,17.38 L369.60,23.63 L369.68,29.69 L369.78,35.56 L369.90,41.26 L370.04,46.77 L370.21,52.13 L370.39,57.31 L370.60,62.35 L370.84,67.23 L371.09,71.96 L371.37,76.55 L371.67,81.01 L371.99,85.33 L372.33,89.52 L372.69,93.58 L373.08,97.53 L373.49,101.35 L373.92,105.07 L374.37,108.67 L374.85,112.16 L375.34,115.55 L375.86,118.84 L376.40,122.04 L376.97,125.13 L377.55,128.14 L378.16,131.05 L378.79,133.88 L379.44,136.63 L380.12,139.29 L380.81,141.88 L381.53,144.38 L382.27,146.82 L383.03,149.18 L383.82,151.47 L384.62,153.70 L385.45,155.85 L386.30,157.95 L387.17,159.98 L389.62,165.14 L392.08,169.63 L394.53,173.58 L396.98,177.09 L399.43,180.22 L401.88,183.05 L404.33,185.60 L406.78,187.93 L409.23,190.06 L411.68,192.01 L414.13,193.80 L416.58,195.46 L419.03,197.00 L421.48,198.42 L423.93,199.75 L426.38,200.98 L428.84,202.14 L431.29,203.22 L433.74,204.24 L436.19,205.19 L438.64,206.09 L441.09,206.93 L443.54,207.73 L445.99,208.48 L448.44,209.19 L450.89,209.87 L453.34,210.51 L455.79,211.11 L458.24,211.69 L460.69,212.24 L463.14,212.76 L465.59,213.25 L468.05,213.72 L470.50,214.17 L472.95,214.60 L475.40,215.01 L477.85,215.41 L480.30,215.78 L482.75,216.14 L485.20,216.48 L487.65,216.81 L490.10,217.13 L492.55,217.43 L495.00,217.72 L497.45,218.00 L499.90,218.27 L502.35,218.52 L504.80,218.77 L507.26,219.01 L509.71,219.24 L512.16,219.46 L514.61,219.67 L517.06,219.88 L519.51,220.07 L521.96,220.26 L524.41,220.45 L526.86,220.62 L529.31,220.79 L531.76,220.96 L534.21,221.12 L536.66,221.27 L539.11,221.42 L541.56,221.56 L544.02,221.70 L546.47,221.84 L548.92,221.97 L551.37,222.09 L553.82,222.21 L556.27,222.33 L558.72,222.44 L561.17,222.56 L563.62,222.66 L566.07,222.77 L568.52,222.87 L570.97,222.96 L573.42,223.06 L575.87,223.15 L578.32,223.24 L580.77,223.33 L583.23,223.41 L585.68,223.49 L588.13,223.57 L590.58,223.65 L593.03,223.72 L595.48,223.80 L597.93,223.87 L600.38,223.93 L602.83,224.00 L605.28,224.07 L607.73,224.13 L610.18,224.19 L612.63,224.25 L615.08,224.31 L617.53,224.37 L619.98,224.42 L622.44,224.47 L624.89,224.53 L627.34,224.58 L629.79,224.63 L632.24,224.67 L634.69,224.72 L637.14,224.77 L639.59,224.81 L642.04,224.86 L644.49,224.90 L646.94,224.94 L649.39,224.98 L651.84,225.02 L654.29,225.06 L656.74,225.09 L659.19,225.13 L661.65,225.17 L664.10,225.20 L666.55,225.23 L669.00,225.27 L671.45,225.30 L673.90,225.33 L676.35,225.36 L678.80,225.39" fill="none" stroke="#e8262a" stroke-width="2.4" stroke-linejoin="round"/>
<path d="M369.50,4.20 L369.51,6.35 L369.54,8.88 L369.60,11.55 L369.68,14.31 L369.78,17.12 L369.90,19.97 L370.04,22.84 L370.21,25.72 L370.39,28.61 L370.60,31.50 L370.84,34.38 L371.09,37.25 L371.37,40.11 L371.67,42.96 L371.99,45.79 L372.33,48.60 L372.69,51.39 L373.08,54.15 L373.49,56.89 L373.92,59.61 L374.37,62.30 L374.85,64.96 L375.34,67.60 L375.86,70.21 L376.40,72.79 L376.97,75.33 L377.55,77.85 L378.16,80.34 L378.79,82.80 L379.44,85.23 L380.12,87.63 L380.81,89.99 L381.53,92.33 L382.27,94.63 L383.03,96.91 L383.82,99.15 L384.62,101.36 L385.45,103.55 L386.30,105.70 L387.17,107.82 L389.62,113.36 L392.08,118.37 L394.53,122.95 L396.98,127.15 L399.43,131.04 L401.88,134.64 L404.33,138.00 L406.78,141.14 L409.23,144.08 L411.68,146.85 L414.13,149.46 L416.58,151.93 L419.03,154.27 L421.48,156.48 L423.93,158.59 L426.38,160.59 L428.84,162.50 L431.29,164.32 L433.74,166.06 L436.19,167.72 L438.64,169.32 L441.09,170.84 L443.54,172.31 L445.99,173.71 L448.44,175.07 L450.89,176.37 L453.34,177.62 L455.79,178.82 L458.24,179.98 L460.69,181.10 L463.14,182.18 L465.59,183.22 L468.05,184.23 L470.50,185.21 L472.95,186.15 L475.40,187.06 L477.85,187.94 L480.30,188.79 L482.75,189.62 L485.20,190.42 L487.65,191.20 L490.10,191.95 L492.55,192.69 L495.00,193.40 L497.45,194.09 L499.90,194.76 L502.35,195.41 L504.80,196.04 L507.26,196.66 L509.71,197.25 L512.16,197.84 L514.61,198.40 L517.06,198.95 L519.51,199.49 L521.96,200.01 L524.41,200.52 L526.86,201.02 L529.31,201.50 L531.76,201.97 L534.21,202.43 L536.66,202.88 L539.11,203.32 L541.56,203.75 L544.02,204.16 L546.47,204.57 L548.92,204.97 L551.37,205.36 L553.82,205.73 L556.27,206.10 L558.72,206.46 L561.17,206.82 L563.62,207.16 L566.07,207.50 L568.52,207.83 L570.97,208.15 L573.42,208.47 L575.87,208.78 L578.32,209.08 L580.77,209.37 L583.23,209.66 L585.68,209.94 L588.13,210.22 L590.58,210.49 L593.03,210.76 L595.48,211.02 L597.93,211.27 L600.38,211.52 L602.83,211.76 L605.28,212.00 L607.73,212.24 L610.18,212.47 L612.63,212.69 L615.08,212.91 L617.53,213.13 L619.98,213.34 L622.44,213.55 L624.89,213.75 L627.34,213.95 L629.79,214.15 L632.24,214.34 L634.69,214.53 L637.14,214.71 L639.59,214.89 L642.04,215.07 L644.49,215.25 L646.94,215.42 L649.39,215.58 L651.84,215.75 L654.29,215.91 L656.74,216.07 L659.19,216.23 L661.65,216.38 L664.10,216.53 L666.55,216.68 L669.00,216.83 L671.45,216.97 L673.90,217.11 L676.35,217.25 L678.80,217.38" fill="none" stroke="#e8262a" stroke-width="2.2" stroke-linejoin="round" stroke-dasharray="4.3,2.1,0.9,1.9"/>
<path d="M369.50,4.20 L369.51,23.10 L369.54,31.71 L369.60,38.19 L369.68,43.51 L369.78,48.07 L369.90,52.09 L370.04,55.70 L370.21,58.98 L370.39,61.99 L370.60,64.78 L370.84,67.38 L371.09,69.82 L371.37,72.12 L371.67,74.29 L371.99,76.35 L372.33,78.32 L372.69,80.20 L373.08,82.00 L373.49,83.72 L373.92,85.39 L374.37,86.99 L374.85,88.54 L375.34,90.04 L375.86,91.50 L376.40,92.91 L376.97,94.29 L377.55,95.63 L378.16,96.93 L378.79,98.21 L379.44,99.45 L380.12,100.67 L380.81,101.86 L381.53,103.03 L382.27,104.18 L383.03,105.30 L383.82,106.41 L384.62,107.49 L385.45,108.56 L386.30,109.61 L387.17,110.65 L389.62,113.36 L392.08,115.82 L394.53,118.09 L396.98,120.19 L399.43,122.15 L401.88,124.00 L404.33,125.74 L406.78,127.40 L409.23,128.98 L411.68,130.49 L414.13,131.93 L416.58,133.32 L419.03,134.66 L421.48,135.95 L423.93,137.20 L426.38,138.40 L428.84,139.57 L431.29,140.70 L433.74,141.81 L436.19,142.88 L438.64,143.92 L441.09,144.94 L443.54,145.93 L445.99,146.90 L448.44,147.84 L450.89,148.76 L453.34,149.67 L455.79,150.55 L458.24,151.41 L460.69,152.26 L463.14,153.09 L465.59,153.90 L468.05,154.70 L470.50,155.48 L472.95,156.25 L475.40,157.00 L477.85,157.74 L480.30,158.47 L482.75,159.18 L485.20,159.88 L487.65,160.57 L490.10,161.25 L492.55,161.92 L495.00,162.57 L497.45,163.22 L499.90,163.86 L502.35,164.48 L504.80,165.10 L507.26,165.71 L509.71,166.30 L512.16,166.89 L514.61,167.47 L517.06,168.05 L519.51,168.61 L521.96,169.17 L524.41,169.71 L526.86,170.26 L529.31,170.79 L531.76,171.31 L534.21,171.83 L536.66,172.35 L539.11,172.85 L541.56,173.35 L544.02,173.84 L546.47,174.33 L548.92,174.81 L551.37,175.28 L553.82,175.75 L556.27,176.21 L558.72,176.67 L561.17,177.12 L563.62,177.56 L566.07,178.00 L568.52,178.43 L570.97,178.86 L573.42,179.29 L575.87,179.71 L578.32,180.12 L580.77,180.53 L583.23,180.93 L585.68,181.33 L588.13,181.73 L590.58,182.12 L593.03,182.50 L595.48,182.88 L597.93,183.26 L600.38,183.63 L602.83,184.00 L605.28,184.37 L607.73,184.73 L610.18,185.09 L612.63,185.44 L615.08,185.79 L617.53,186.13 L619.98,186.47 L622.44,186.81 L624.89,187.15 L627.34,187.48 L629.79,187.80 L632.24,188.13 L634.69,188.45 L637.14,188.77 L639.59,189.08 L642.04,189.39 L644.49,189.70 L646.94,190.00 L649.39,190.30 L651.84,190.60 L654.29,190.89 L656.74,191.19 L659.19,191.47 L661.65,191.76 L664.10,192.04 L666.55,192.32 L669.00,192.60 L671.45,192.88 L673.90,193.15 L676.35,193.42 L678.80,193.68" fill="none" stroke="#2b48b0" stroke-width="2.4" stroke-linejoin="round"/>
<path d="M369.50,4.20 L369.51,10.05 L369.54,13.95 L369.60,17.25 L369.68,20.20 L369.78,22.89 L369.90,25.38 L370.04,27.72 L370.21,29.91 L370.39,32.00 L370.60,33.98 L370.84,35.88 L371.09,37.70 L371.37,39.45 L371.67,41.14 L371.99,42.78 L372.33,44.36 L372.69,45.89 L373.08,47.39 L373.49,48.84 L373.92,50.25 L374.37,51.63 L374.85,52.98 L375.34,54.30 L375.86,55.60 L376.40,56.87 L376.97,58.11 L377.55,59.33 L378.16,60.53 L378.79,61.71 L379.44,62.88 L380.12,64.02 L380.81,65.15 L381.53,66.27 L382.27,67.37 L383.03,68.45 L383.82,69.52 L384.62,70.59 L385.45,71.63 L386.30,72.67 L387.17,73.70 L389.62,76.41 L392.08,78.91 L394.53,81.22 L396.98,83.39 L399.43,85.44 L401.88,87.38 L404.33,89.23 L406.78,90.99 L409.23,92.69 L411.68,94.31 L414.13,95.88 L416.58,97.40 L419.03,98.87 L421.48,100.29 L423.93,101.67 L426.38,103.01 L428.84,104.32 L431.29,105.60 L433.74,106.84 L436.19,108.05 L438.64,109.24 L441.09,110.40 L443.54,111.54 L445.99,112.65 L448.44,113.74 L450.89,114.82 L453.34,115.87 L455.79,116.90 L458.24,117.91 L460.69,118.90 L463.14,119.88 L465.59,120.84 L468.05,121.79 L470.50,122.72 L472.95,123.64 L475.40,124.54 L477.85,125.43 L480.30,126.31 L482.75,127.17 L485.20,128.02 L487.65,128.86 L490.10,129.69 L492.55,130.50 L495.00,131.31 L497.45,132.10 L499.90,132.89 L502.35,133.66 L504.80,134.42 L507.26,135.18 L509.71,135.92 L512.16,136.66 L514.61,137.38 L517.06,138.10 L519.51,138.81 L521.96,139.51 L524.41,140.21 L526.86,140.89 L529.31,141.57 L531.76,142.24 L534.21,142.90 L536.66,143.55 L539.11,144.20 L541.56,144.84 L544.02,145.48 L546.47,146.10 L548.92,146.72 L551.37,147.33 L553.82,147.94 L556.27,148.54 L558.72,149.14 L561.17,149.72 L563.62,150.31 L566.07,150.88 L568.52,151.45 L570.97,152.02 L573.42,152.58 L575.87,153.13 L578.32,153.68 L580.77,154.22 L583.23,154.76 L585.68,155.29 L588.13,155.82 L590.58,156.34 L593.03,156.86 L595.48,157.37 L597.93,157.88 L600.38,158.38 L602.83,158.88 L605.28,159.37 L607.73,159.86 L610.18,160.34 L612.63,160.82 L615.08,161.30 L617.53,161.77 L619.98,162.23 L622.44,162.70 L624.89,163.16 L627.34,163.61 L629.79,164.06 L632.24,164.51 L634.69,164.95 L637.14,165.39 L639.59,165.82 L642.04,166.25 L644.49,166.68 L646.94,167.10 L649.39,167.52 L651.84,167.94 L654.29,168.35 L656.74,168.76 L659.19,169.16 L661.65,169.57 L664.10,169.97 L666.55,170.36 L669.00,170.75 L671.45,171.14 L673.90,171.53 L676.35,171.91 L678.80,172.29" fill="none" stroke="#2b48b0" stroke-width="2.2" stroke-linejoin="round" stroke-dasharray="4.3,2.1,0.9,1.9"/>
</g>
<rect x="199.5" y="0" width="130" height="19.5" fill="#fff"/>
<path d="M199.5,8.3 H179.5 V69.2 H329.6 V19.6" fill="none" stroke="#a8a8a8" stroke-width="1"/>
<line x1="183" y1="13.8" x2="199.6" y2="13.8" stroke="#1a1a1a" stroke-width="2.2"/>
<text x="203.9" y="16.00" class="lg" textLength="121.4" lengthAdjust="spacingAndGlyphs">Wagener et al. 2016 (Marmara)</text>
<line x1="183" y1="24.2" x2="202.7" y2="24.2" stroke="#b852b2" stroke-width="2.2"/>
<text x="203.9" y="27.40" class="lg" textLength="87.3" lengthAdjust="spacingAndGlyphs">Wang &amp; Takada 2005</text>
<line x1="183" y1="33.8" x2="202.7" y2="33.8" stroke="#dfe22e" stroke-width="2.2"/>
<text x="203.9" y="37.20" class="lg" textLength="123.9" lengthAdjust="spacingAndGlyphs">Goda &amp; Hong 2008 (California)</text>
<line x1="183" y1="44.0" x2="202.7" y2="44.0" stroke="#e8262a" stroke-width="2.2"/>
<text x="203.9" y="47.00" class="lg" textLength="66.5" lengthAdjust="spacingAndGlyphs">Boore et al 2003</text>
<line x1="183" y1="53.6" x2="202.7" y2="53.6" stroke="#3447b2" stroke-width="2.2"/>
<text x="203.9" y="57.10" class="lg" textLength="90.5" lengthAdjust="spacingAndGlyphs">Goda &amp; Atkinson 2010</text>
<line x1="183" y1="63.8" x2="202.7" y2="63.8" stroke="#5abf5e" stroke-width="2.2"/>
<text x="203.9" y="66.90" class="lg" textLength="115.4" lengthAdjust="spacingAndGlyphs">Goda &amp; Hong 2008 (Chi Chi)</text>
<rect x="527" y="0" width="158" height="17.3" fill="#fff"/>
<path d="M527,6.6 H506.3 V68.7 H675.8 V17.3" fill="none" stroke="#a8a8a8" stroke-width="1"/>
<line x1="509.5" y1="12.4" x2="527.1" y2="12.4" stroke="#111111" stroke-width="2.4"/>
<text x="530.0" y="12.30" class="lg" textLength="126.4" lengthAdjust="spacingAndGlyphs">Wagener et al. 2016 (Marmara 0.3s)</text>
<line x1="509.5" y1="23.0" x2="526.0" y2="23.0" stroke="#111111" stroke-width="2.4" stroke-dasharray="4.3,2.1,0.9,1.9" stroke-dashoffset="6.4"/>
<text x="530.0" y="25.20" class="lg" textLength="119.6" lengthAdjust="spacingAndGlyphs">Wagener et al. 2016 (Marmara 1s)</text>
<line x1="509.5" y1="33.1" x2="528.9" y2="33.1" stroke="#e8262a" stroke-width="2.4"/>
<text x="530.6" y="36.60" class="lg" textLength="143.2" lengthAdjust="spacingAndGlyphs">Goda &amp; Hong 2008 (California) 0.3s</text>
<line x1="509.5" y1="43.3" x2="527.8" y2="43.3" stroke="#e8262a" stroke-width="2.4" stroke-dasharray="4.3,2.1,0.9,1.9" stroke-dashoffset="6.4"/>
<text x="530.6" y="46.40" class="lg" textLength="135.7" lengthAdjust="spacingAndGlyphs">Goda &amp; Hong 2008 (California) 1s</text>
<line x1="509.5" y1="53.2" x2="528.9" y2="53.2" stroke="#2b48b0" stroke-width="2.4"/>
<text x="530.6" y="56.60" class="lg" textLength="109.6" lengthAdjust="spacingAndGlyphs">Goda &amp; Atkinson 2010 0.3s</text>
<line x1="509.5" y1="62.7" x2="527.8" y2="62.7" stroke="#2b48b0" stroke-width="2.4" stroke-dasharray="4.3,2.1,0.9,1.9" stroke-dashoffset="6.4"/>
<text x="530.6" y="66.30" class="lg" textLength="102.5" lengthAdjust="spacingAndGlyphs">Goda &amp; Atkinson 2010 1s</text>
<text x="100.4" y="247.6" class="xl" textLength="60.2" lengthAdjust="spacingAndGlyphs">Separation</text>
<text x="165.4" y="247.6" class="xl" textLength="48.5" lengthAdjust="spacingAndGlyphs">Distance</text>
<text x="218.9" y="247.6" class="xl xd" textLength="9.4" lengthAdjust="spacingAndGlyphs">&#916;</text>
<text x="233.8" y="247.6" class="xl" textLength="22.5" lengthAdjust="spacingAndGlyphs">[km]</text>
<text x="445.7" y="247.4" class="xl" textLength="60.4" lengthAdjust="spacingAndGlyphs">Separation</text>
<text x="512.3" y="247.4" class="xl" textLength="47.2" lengthAdjust="spacingAndGlyphs">Distance</text>
<text x="565.2" y="247.4" class="xl xd" textLength="9.4" lengthAdjust="spacingAndGlyphs">&#916;</text>
<text x="580.6" y="247.4" class="xl" textLength="22.3" lengthAdjust="spacingAndGlyphs">[km]</text>
<path d="M346.0,115.3 C344.6,114.6 344.8,112.6 346.8,112.4 C348.8,112.2 350.9,113.2 350.6,114.4 C350.3,115.5 347.6,115.6 346.0,115.3 Z M346.2,115.3 L354,117.6" fill="none" stroke="#505050" stroke-width="1.1" stroke-linecap="round"/>
<path d="M1.8,116.4 C0.7,115.7 0.8,113.3 2.3,113.2 C3.9,113.1 5.3,114.1 5.1,115.1 C4.9,116.1 3.0,116.6 1.8,116.4 Z M2.0,116.4 L8.0,118.8" fill="none" stroke="#505050" stroke-width="1.05" stroke-linecap="round"/>
</svg>
</body></html>
